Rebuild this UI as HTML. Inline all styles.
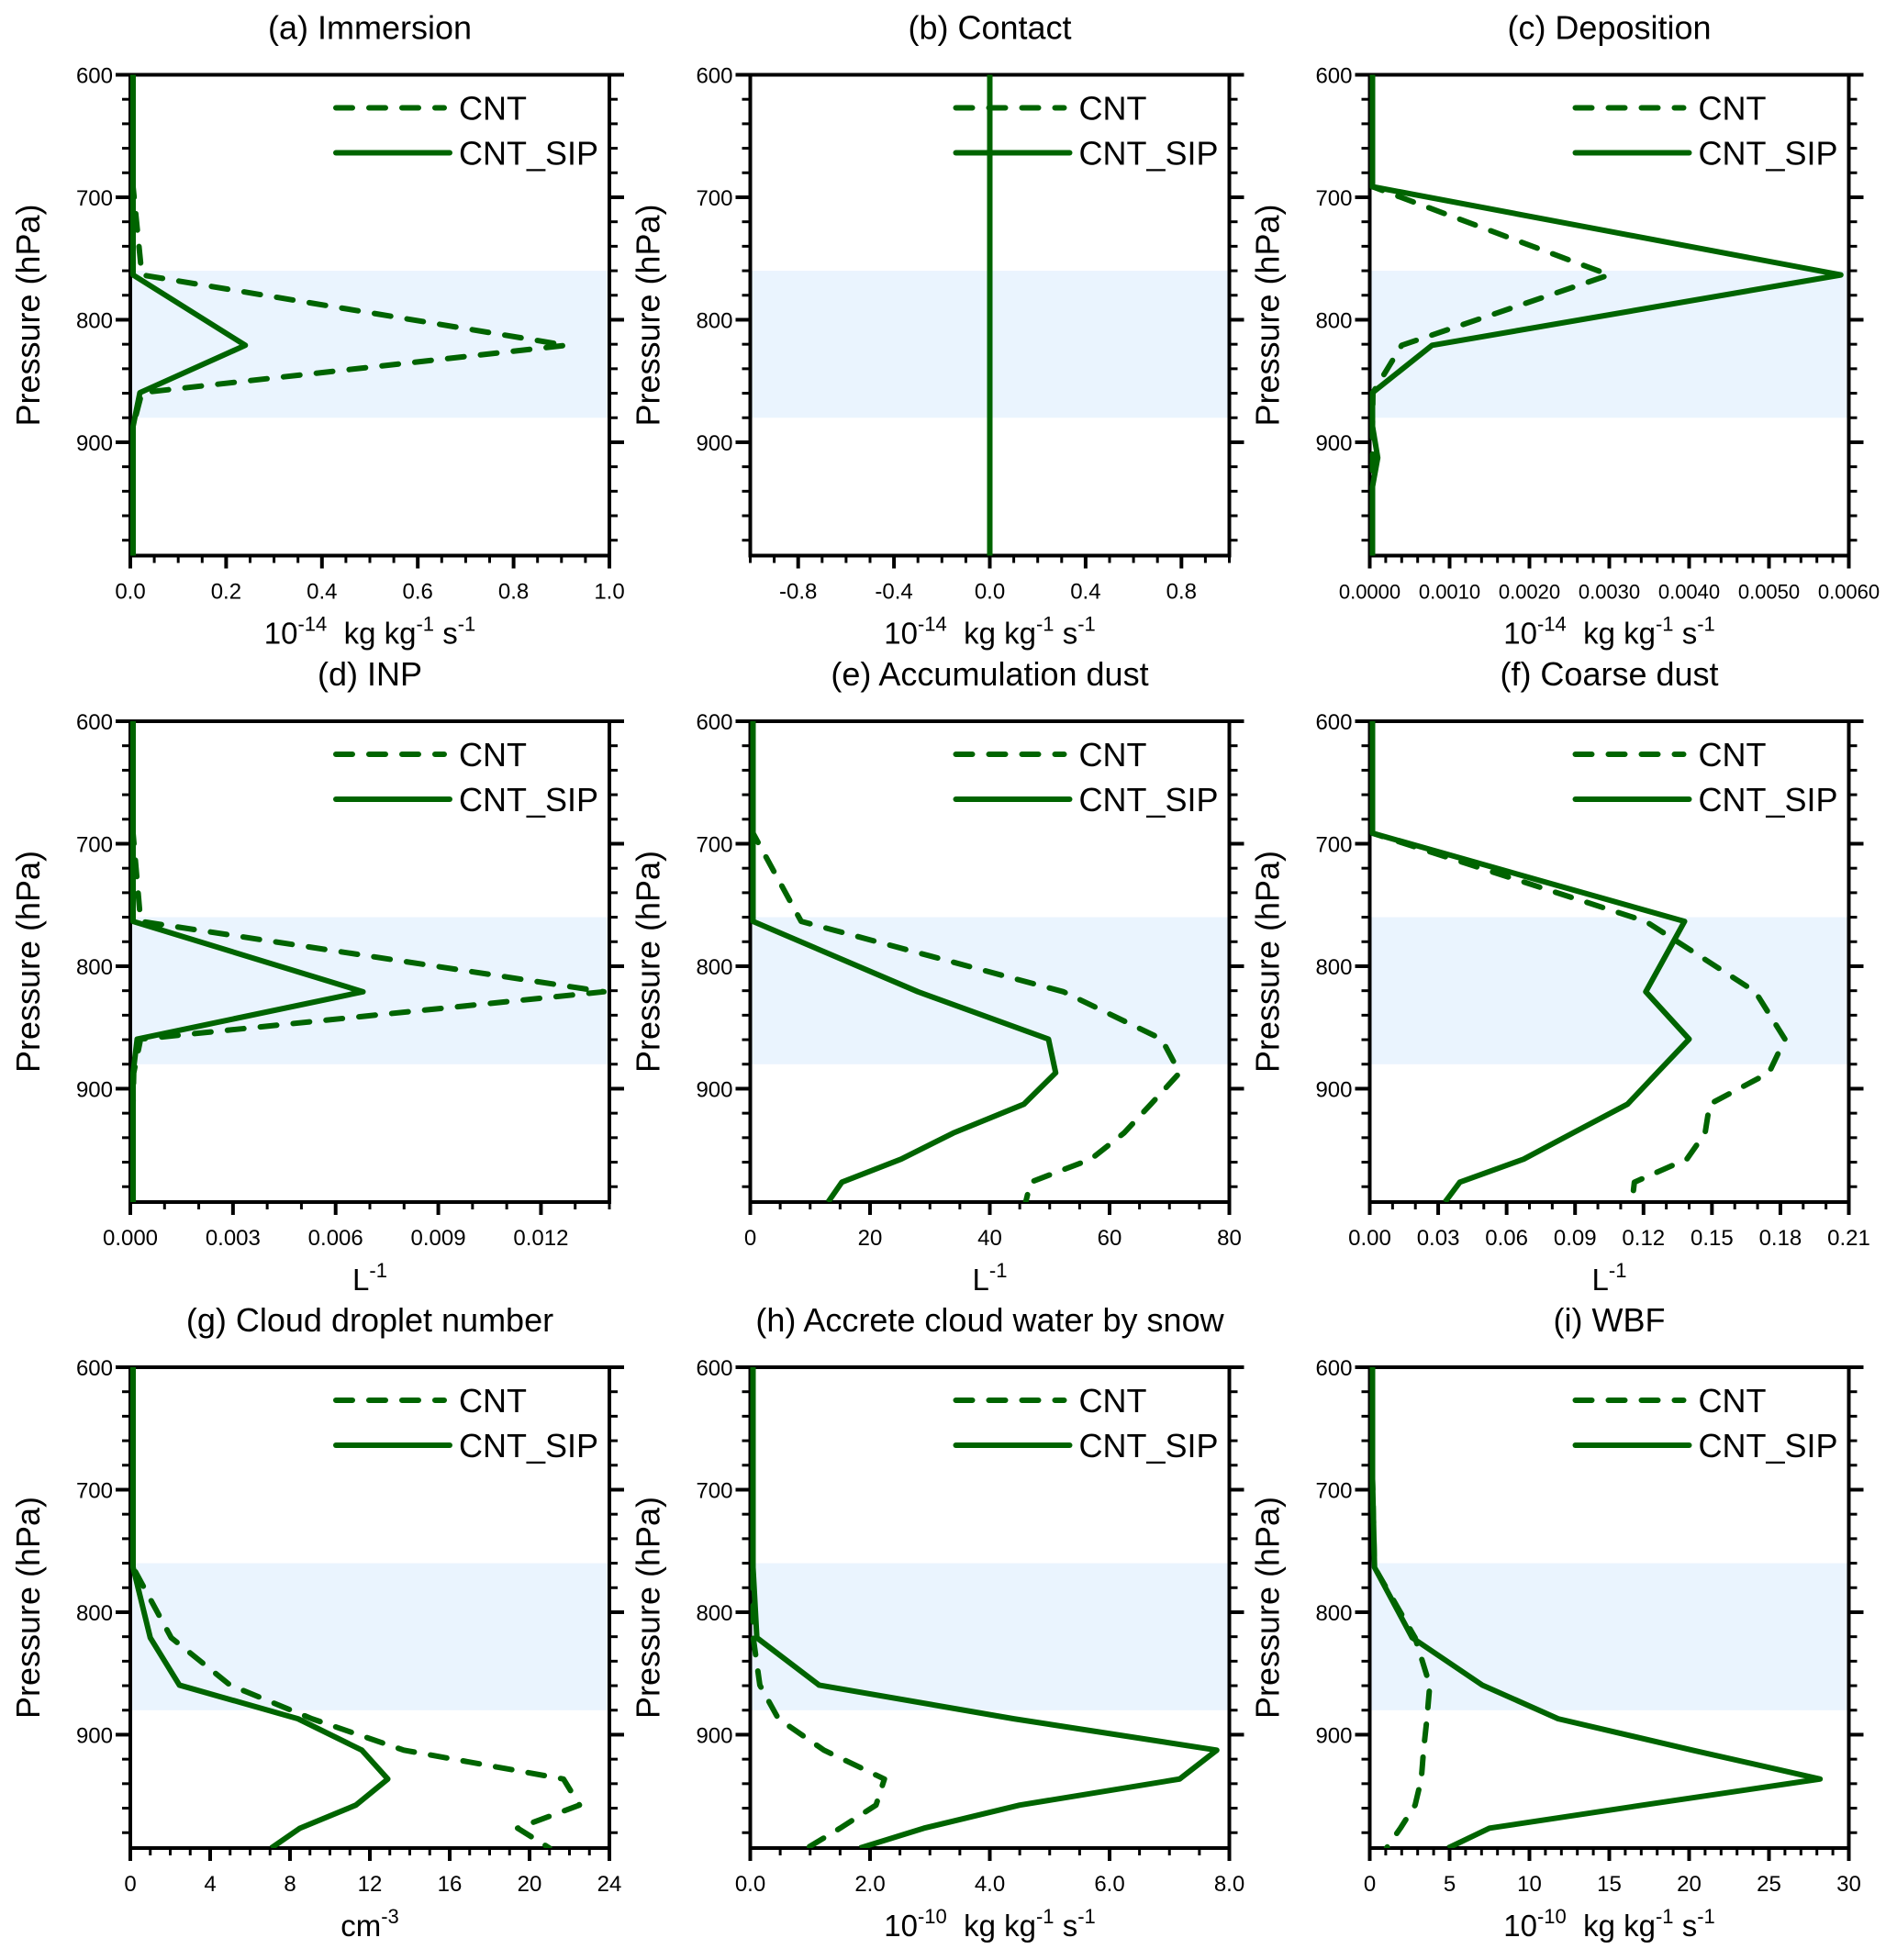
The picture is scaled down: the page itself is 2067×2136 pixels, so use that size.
<!DOCTYPE html>
<html><head><meta charset="utf-8">
<style>
html,body{margin:0;padding:0;background:#fff;}
svg{display:block;font-family:"Liberation Sans",Arial,sans-serif;}
</style></head>
<body>
<svg id="fig" width="2067" height="2136" viewBox="0 0 2067 2136" xmlns="http://www.w3.org/2000/svg"></svg>
<script>
// Pressure levels (hPa)
const levels = [524.69, 609.78, 691.39, 763.40, 820.86, 859.53, 887.02, 912.64, 936.20, 957.49, 976.33, 992.56];
const pressureTicks = [600, 700, 800, 900];
const panelTitles = ["(a) Immersion","(b) Contact","(c) Deposition","(d) INP","(e) Accumulation dust","(f) Coarse dust","(g) Cloud droplet number","(h) Accrete cloud water by snow","(i) WBF"];
// series values per panel
const cntA = [0,0,0,0.024,0.91,0.024,0.005,0,0,0,0,0];
const sipA = [0,0,0,0,0.24,0.02,0.005,0,0,0,0,0];
const cntB = [0,0,0,0,0,0,0,0,0,0,0,0];
const sipB = [0,0,0,0,0,0,0,0,0,0,0,0];
const cntC = [0,0,0,0.0030,0.0004,0.00004,0,0,0,0,0,0];
const sipC = [0,0,0,0.0059,0.00078,0,0,0.0001,0,0,0,0];
const cntD = [0,0,0,0.0003,0.01384,0.0003,0.0001,0,0,0,0,0];
const sipD = [0,0,0,0,0.0068,0.0002,0.00005,0,0,0,0,0];
const cntE = [0,0,0,8.5,52.3,68.7,71.7,66.9,62.4,56.9,46.8,46];
const sipE = [0,0,0,0,28,49.8,51,45.7,33.9,25.2,15.3,13];
const cntF = [0,0,0,0.121,0.169,0.182,0.175,0.149,0.147,0.139,0.116,0.115];
const sipF = [0,0,0,0.138,0.121,0.140,0.126,0.113,0.089,0.0675,0.0395,0.033];
const cntG = [0,0,0,0.1,2.05,5.0,9.1,13.7,21.7,22.5,19.4,21];
const sipG = [0,0,0,0,1.0,2.46,8.4,11.6,12.9,11.3,8.5,7.06];
const cntH = [0,0,0,0,0.05,0.16,0.47,1.23,2.24,2.1,1.5,0.95];
const sipH = [0,0,0,0,0.11,1.15,4.4,7.79,7.17,4.5,2.9,1.83];
const cntI = [0,0,0.05,0.3,2.84,3.76,3.58,3.37,3.23,2.84,1.92,1.05];
const sipI = [0,0,0.05,0.3,2.66,7.05,11.8,20.2,28.2,17.1,7.5,4.9];
// x-axis tick labels per panel
const xTicksA = ["0.0","0.2","0.4","0.6","0.8","1.0"];
const xTicksB = ["-0.8","-0.4","0.0","0.4","0.8"];
const xTicksC = ["0.0000","0.0010","0.0020","0.0030","0.0040","0.0050","0.0060"];
const xTicksD = ["0.000","0.003","0.006","0.009","0.012"];
const xTicksE = ["0","20","40","60","80"];
const xTicksF = ["0.00","0.03","0.06","0.09","0.12","0.15","0.18","0.21"];
const xTicksG = ["0","4","8","12","16","20","24"];
const xTicksH = ["0.0","2.0","4.0","6.0","8.0"];
const xTicksI = ["0","5","10","15","20","25","30"];
const xRanges = [[0,1],[-1,1],[0,0.006],[0,0.014],[0,80],[0,0.21],[0,24],[0,8],[0,30]];
const xMinorSteps = [0.05,0.1,0.0002,0.001,5,0.01,1,0.5,1];
const xUnits = ["sci14","sci14","sci14","L","L","L","cm","sci10","sci10"];
const cntAll = [cntA,cntB,cntC,cntD,cntE,cntF,cntG,cntH,cntI];
const sipAll = [sipA,sipB,sipC,sipD,sipE,sipF,sipG,sipH,sipI];
const tickAll = [xTicksA,xTicksB,xTicksC,xTicksD,xTicksE,xTicksF,xTicksG,xTicksH,xTicksI];

const NS = "http://www.w3.org/2000/svg";
const svg = document.getElementById("fig");
const GREEN = "#006400";
const colX = [142, 817.5, 1492.5], rowY = [81.5, 786, 1490];
const W = 522, H = 524, PMIN = 600, PMAX = 992.56;

function mk(tag, attrs, parent){
  const e = document.createElementNS(NS, tag);
  for (const k in attrs) e.setAttribute(k, attrs[k]);
  (parent||svg).appendChild(e);
  return e;
}

const defs = mk("defs", {});

for (let i = 0; i < 9; i++) {
  const x0 = colX[i%3], y0 = rowY[Math.floor(i/3)];
  const [xmin, xmax] = xRanges[i];
  const sx = v => x0 + (v - xmin) / (xmax - xmin) * W;
  const sxLine = v => Math.max(sx(v), x0 + 3);
  const sy = p => y0 + (p - PMIN) / (PMAX - PMIN) * H;

  const g = mk("g", {});
  
  

  const cp = mk("clipPath", {id: "clip" + i}, defs);
  mk("rect", {x: x0 - 2, y: y0, width: W + 4, height: H}, cp);

  const band = mk("rect", {x: x0, y: sy(760), width: W, height: sy(880) - sy(760), fill: "#eaf4fe"}, g);
  
  

  const title = mk("text", {x: x0 + W/2, y: y0 - 39, "font-size": 36, "text-anchor": "middle", fill: "#000"}, g);
  title.textContent = panelTitles[i];
  
  

  // frame
  const frame = mk("rect", {x: x0, y: y0, width: W, height: H, fill: "none", stroke: "#000", "stroke-width": 4}, g);
  
  

  // series
  const series = [[cntAll[i], true], [sipAll[i], false]];
  for (const [vals, dashed] of series) {
    let d = "";
    vals.forEach((v, k) => { d += (k ? "L" : "M") + sxLine(v).toFixed(2) + "," + sy(levels[k]).toFixed(2); });
    const path = mk("path", {d: d, fill: "none", stroke: GREEN, "stroke-width": 6, "stroke-linejoin": "round", "stroke-linecap": dashed ? "round" : "butt", "clip-path": "url(#clip" + i + ")"}, g);
    if (dashed) path.setAttribute("stroke-dasharray", "18 18");
    
    
  }

  // y ticks
  for (let p = 600; p <= PMAX; p += 20) {
    const major = p % 100 === 0;
    const L = major ? 16 : 9;
    mk("line", {x1: x0 - L, x2: x0, y1: sy(p), y2: sy(p), stroke: "#000", "stroke-width": major ? 4 : 3}, g);
    mk("line", {x1: x0 + W, x2: x0 + W + L, y1: sy(p), y2: sy(p), stroke: "#000", "stroke-width": major ? 4 : 3}, g);
  }
  pressureTicks.forEach(p => {
    const t = mk("text", {x: x0 - 19, y: sy(p) + 9, "font-size": 24, "text-anchor": "end"}, g);
    t.textContent = p;
    
    
  });
  const yt = mk("text", {x: 0, y: 0, "font-size": 36, "text-anchor": "middle", transform: "translate(" + (x0 - 99) + "," + (y0 + H/2) + ") rotate(-90)"}, g);
  yt.textContent = "Pressure (hPa)";
  
  

  // x minor ticks
  const ms = xMinorSteps[i];
  const nMinor = Math.round((xmax - xmin) / ms);
  for (let k = 0; k <= nMinor; k++) {
    const v = xmin + k * ms;
    mk("line", {x1: sx(v), x2: sx(v), y1: y0 + H, y2: y0 + H + 8, stroke: "#000", "stroke-width": 3}, g);
  }
  // x major ticks & labels
  tickAll[i].forEach(lbl => {
    const v = parseFloat(lbl);
    mk("line", {x1: sx(v), x2: sx(v), y1: y0 + H, y2: y0 + H + 14, stroke: "#000", "stroke-width": 4}, g);
    const t = mk("text", {x: sx(v), y: y0 + H + 47, "font-size": i === 2 ? 22 : 24, "text-anchor": "middle"}, g);
    t.textContent = lbl;
    
    
  });

  // x axis title
  const xt = mk("text", {x: x0 + W/2, y: y0 + H + 96, "font-size": 33, "text-anchor": "middle", "xml:space": "preserve", style: "white-space:pre"}, g);
  
  
  const u = xUnits[i];
  function add(txt, sup){
    const ts = mk("tspan", {}, xt);
    if (sup) { ts.setAttribute("font-size", 22); ts.setAttribute("dy", "-14"); }
    ts.textContent = txt;
    return ts;
  }
  function down(txt){ const ts = mk("tspan", {dy: "14"}, xt); ts.textContent = txt; }
  if (u === "sci14" || u === "sci10") {
    add("10"); add(u === "sci14" ? "-14" : "-10", true); down("  kg kg"); add("-1", true); down(" s"); add("-1", true);
  } else if (u === "L") {
    add("L"); add("-1", true);
  } else {
    add("cm"); add("-3", true);
  }

  // legend
  const lg = mk("g", {}, g);
  
  
  const l1 = mk("line", {x1: x0 + 224, x2: x0 + 342, y1: y0 + 36, y2: y0 + 36, stroke: GREEN, "stroke-width": 6, "stroke-linecap": "round", "stroke-dasharray": "18 18"}, lg);
  
  
  const t1 = mk("text", {x: x0 + 358, y: y0 + 49, "font-size": 36}, lg);
  t1.textContent = "CNT";
  const l2 = mk("line", {x1: x0 + 224, x2: x0 + 348, y1: y0 + 85, y2: y0 + 85, stroke: GREEN, "stroke-width": 6, "stroke-linecap": "round"}, lg);
  
  
  const t2 = mk("text", {x: x0 + 358, y: y0 + 98, "font-size": 36}, lg);
  t2.textContent = "CNT_SIP";
}
</script>
</body></html>
